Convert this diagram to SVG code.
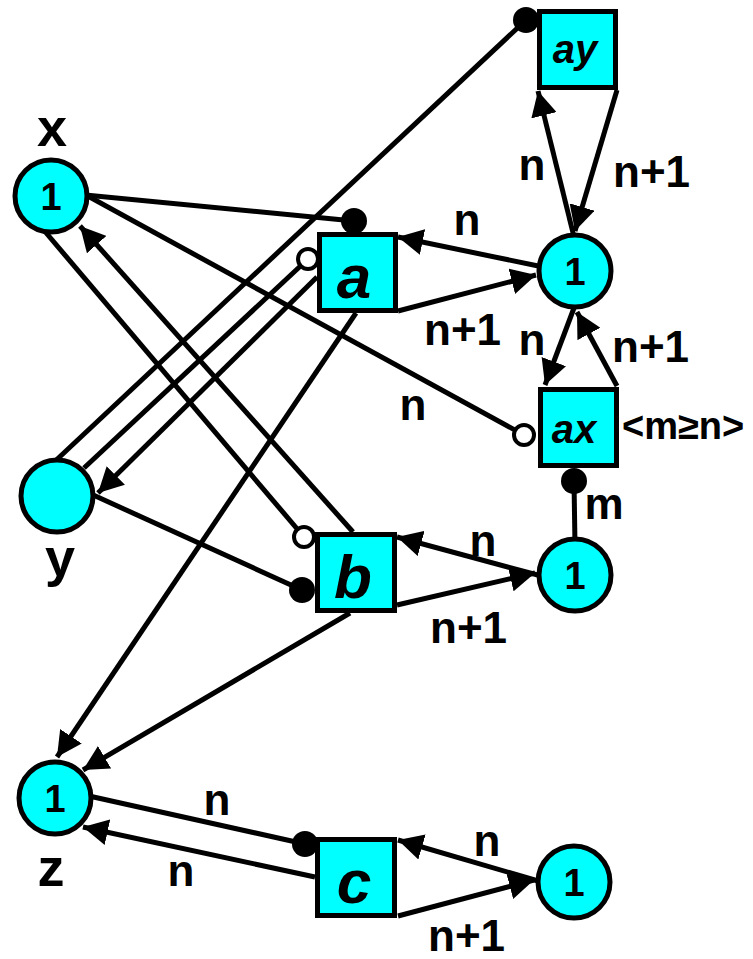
<svg xmlns="http://www.w3.org/2000/svg" width="753" height="959" viewBox="0 0 753 959">
<style>
.e{stroke:#000;stroke-width:5;fill:none}
.ar{marker-end:url(#arr)}
.dot{fill:#000}
.odot{fill:#fff;stroke:#000;stroke-width:4}
.pl circle{fill:#00ffff;stroke:#000;stroke-width:5}
.tr rect{fill:#00ffff;stroke:#000;stroke-width:5}
.one{font-family:"Liberation Sans",Arial,sans-serif;font-weight:bold;font-size:38px;text-anchor:middle}
.bl{font-family:"Liberation Sans",Arial,sans-serif;font-weight:bold;font-style:italic;font-size:62px;text-anchor:middle}
.bs{font-family:"Liberation Sans",Arial,sans-serif;font-weight:bold;font-style:italic;font-size:40px;text-anchor:middle}
.nm{font-family:"Liberation Sans",Arial,sans-serif;font-weight:bold;font-size:54px;text-anchor:middle}
.lb{font-family:"Liberation Sans",Arial,sans-serif;font-weight:bold;font-size:44px}
.c{text-anchor:middle}
</style>
<defs>
<marker id="arr" viewBox="0 -13 25 26" refX="25" refY="0" markerWidth="25" markerHeight="26" markerUnits="userSpaceOnUse" orient="auto"><path d="M0,-13 L25,0 L0,13 z" fill="#000"/></marker>
</defs>
<g id="connectors">
<path class="e" d="M51,465 L526,20"/>
<path class="e" d="M84,468 L308,259"/>
<path class="e ar" d="M317,277 L98,493"/>
<path class="e" d="M42,228 L304,537"/>
<path class="e ar" d="M353,532 L80,226"/>
<path class="e" d="M75,189 L524,435"/>
<path class="e" d="M75,194 L354,221"/>
<path class="e ar" d="M356,313 L57,757"/>
<path class="e ar" d="M350,613 L83,770"/>
<path class="e" d="M80,489 L302,590"/>
<path class="e" d="M80,794 L305,844"/>
<path class="e ar" d="M315,877 L83,827"/>
<path class="e ar" d="M548,268 L398,237"/>
<path class="e ar" d="M398,311 L536,275"/>
<path class="e ar" d="M576,245 L538,91"/>
<path class="e ar" d="M617,90 L575,231"/>
<path class="e ar" d="M577,300 L545,385"/>
<path class="e ar" d="M617,386 L577,312"/>
<path class="e" d="M575,545 L574,481"/>
<path class="e ar" d="M545,577 L397,537"/>
<path class="e ar" d="M397,605 L535,573"/>
<path class="e ar" d="M545,883 L398,840"/>
<path class="e ar" d="M398,916 L534,880"/>
<circle class="dot" cx="354" cy="221" r="13"/>
<circle class="dot" cx="526" cy="20" r="13"/>
<circle class="dot" cx="302" cy="590" r="13"/>
<circle class="dot" cx="574" cy="481" r="13"/>
<circle class="dot" cx="305" cy="844" r="13"/>
<circle class="odot" cx="308" cy="259" r="10"/>
<circle class="odot" cx="304" cy="537" r="10"/>
<circle class="odot" cx="524" cy="435" r="10"/>
</g>
<g id="edge-labels">
<text class="lb c" x="467" y="235">n</text>
<text class="lb c" x="532" y="180">n</text>
<text class="lb" x="613" y="187">n+1</text>
<text class="lb" x="424" y="345">n+1</text>
<text class="lb c" x="532" y="355">n</text>
<text class="lb" x="612" y="362">n+1</text>
<text class="lb c" x="413" y="420">n</text>
<text class="lb" x="622" y="439" style="font-size:38px">&lt;m≥n&gt;</text>
<text class="lb c" x="604" y="519">m</text>
<text class="lb c" x="483" y="556">n</text>
<text class="lb" x="430" y="643">n+1</text>
<text class="lb c" x="217" y="815">n</text>
<text class="lb c" x="181" y="886">n</text>
<text class="lb c" x="487" y="856">n</text>
<text class="lb" x="428" y="951">n+1</text>
</g>
<g id="node-x" class="pl"><circle cx="51" cy="196" r="36"/><text class="one" x="51" y="210">1</text><text class="nm" x="52" y="146">x</text></g>
<g id="node-y" class="pl"><circle cx="57" cy="496" r="36"/><text class="nm" x="60" y="576">y</text></g>
<g id="node-z" class="pl"><circle cx="55" cy="798" r="36"/><text class="one" x="55" y="812">1</text><text class="nm" x="51" y="886">z</text></g>
<g id="node-p1" class="pl"><circle cx="575" cy="271" r="36"/><text class="one" x="575" y="285">1</text></g>
<g id="node-p2" class="pl"><circle cx="575" cy="575" r="36"/><text class="one" x="575" y="589">1</text></g>
<g id="node-p3" class="pl"><circle cx="574" cy="882" r="36"/><text class="one" x="574" y="896">1</text></g>
<g id="node-ay" class="tr"><rect x="539.5" y="11.5" width="76" height="76"/><text class="bs" x="575" y="63">ay</text></g>
<g id="node-a" class="tr"><rect x="319.5" y="234.5" width="76" height="76"/><text class="bl" x="354" y="298">a</text></g>
<g id="node-ax" class="tr"><rect x="540.5" y="389.5" width="76" height="76"/><text class="bs" x="574" y="443">ax</text></g>
<g id="node-b" class="tr"><rect x="317.5" y="534.5" width="77" height="76"/><text class="bl" x="353" y="598">b</text></g>
<g id="node-c" class="tr"><rect x="317.5" y="839.5" width="77" height="76"/><text class="bl" x="354" y="903">c</text></g>
</svg>
